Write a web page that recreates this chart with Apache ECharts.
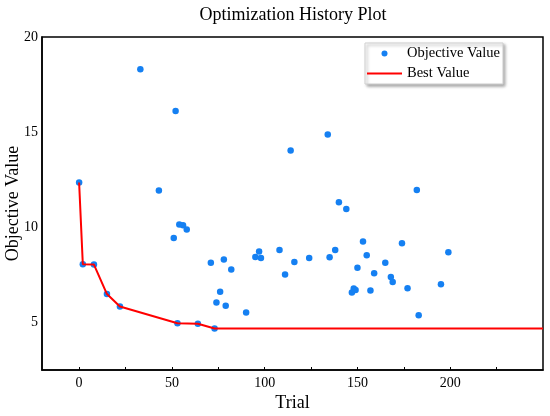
<!DOCTYPE html>
<html>
<head>
<meta charset="utf-8">
<script src="https://cdn.jsdelivr.net/npm/echarts@6/dist/echarts.min.js"></script>
<style>
  html, body { margin: 0; padding: 0; background: #fff; }
  #chart { width: 550px; height: 416px; }
</style>
</head>
<body>
<div id="chart"></div>
<script>
// trial number and objective value of every trial shown
const trials = [0, 2, 8, 15, 22, 33, 43, 51, 52, 53, 54, 56, 58, 64, 71, 73, 74, 76, 78, 79,
    82, 90, 95, 97, 98, 108, 111, 114, 116, 124, 134, 135, 138, 140, 144, 147, 148, 149, 150, 153,
    155, 157, 159, 165, 168, 169, 174, 177, 182, 183, 195, 199];
const objectiveValues = [12.35, 8.06, 8.04, 6.49, 5.84, 18.30, 11.93, 9.44, 16.11, 4.96, 10.14, 10.11, 9.88, 4.93, 8.13, 4.68, 6.05, 6.61, 8.31, 5.87,
    7.78, 5.52, 8.44, 8.73, 8.38, 8.81, 7.52, 14.04, 8.18, 8.39, 14.88, 8.43, 8.81, 11.32, 10.96, 6.57, 6.78, 6.70, 7.87, 9.25,
    8.53, 6.68, 7.59, 8.13, 7.39, 7.12, 9.16, 6.80, 11.96, 5.38, 7.01, 8.69];

// best value so far (improving trials, then held to the end of the axis)
const bestTrials = [0, 2, 8, 15, 22, 53, 64, 73, 250];
const bestValues = [12.35, 8.06, 8.04, 6.49, 5.84, 4.96, 4.93, 4.68, 4.68];

const xLabels = [0, 50, 100, 150, 200];
const xTicks = [0, 25, 50, 75, 100, 125, 150, 175, 200, 225];
const yLabels = [5, 10, 15, 20];

const font = '"Liberation Serif", "Times New Roman", serif';

const chart = echarts.init(document.getElementById('chart'), null, { renderer: 'canvas' });

const option = {
    animation: false,
    backgroundColor: '#fff',
    title: {
        text: 'Optimization History Plot',
        left: 288,
        top: 1,
        textAlign: 'center',
        textStyle: { fontFamily: font, fontSize: 18, fontWeight: 'normal', color: '#000' }
    },
    legend: {
        orient: 'vertical',
        left: 365,
        top: 43,
        itemWidth: 35,
        itemHeight: 6,
        itemGap: 5,
        padding: [3, 3, 3, 1],
        backgroundColor: '#fff',
        borderColor: '#cfcfcf',
        borderWidth: 1,
        borderRadius: 0,
        shadowColor: 'rgba(0,0,0,0.35)',
        shadowBlur: 3,
        shadowOffsetX: 2,
        shadowOffsetY: 2,
        textStyle: { fontFamily: font, fontSize: 14.5, color: '#000' },
        data: [
            { name: 'Objective Value', icon: 'circle' },
            { name: 'Best Value', itemStyle: { opacity: 0 } }
        ]
    },
    grid: {
        left: 42,
        top: 37,
        right: 7,
        bottom: 46,
        outerBoundsMode: 'none',
        show: true,
        borderColor: '#000',
        borderWidth: 1.5,
        backgroundColor: 'transparent'
    },
    xAxis: {
        type: 'value',
        min: -20,
        max: 250,
        name: 'Trial',
        nameLocation: 'middle',
        nameGap: 24,
        nameMoveOverlap: false,
        nameTextStyle: { fontFamily: font, fontSize: 18, color: '#000' },
        axisLine: { show: true, onZero: false, lineStyle: { color: '#000', width: 1.5 } },
        axisTick: { show: true, inside: true, length: 3, customValues: xTicks, lineStyle: { color: '#000' } },
        axisLabel: { customValues: xLabels, margin: 6, fontFamily: font, fontSize: 14, color: '#000' },
        splitLine: { show: false }
    },
    yAxis: {
        type: 'value',
        min: 2.5,
        max: 20,
        name: 'Objective Value',
        nameLocation: 'middle',
        nameGap: 20,
        nameMoveOverlap: false,
        nameTextStyle: { fontFamily: font, fontSize: 18, color: '#000' },
        axisLine: { show: true, onZero: false, lineStyle: { color: '#000', width: 1.5 } },
        axisTick: { show: false },
        axisLabel: { customValues: yLabels, margin: 4, fontFamily: font, fontSize: 14, color: '#000' },
        splitLine: { show: false }
    },
    series: [
        {
            name: 'Objective Value',
            type: 'scatter',
            symbol: 'circle',
            symbolSize: 6.5,
            itemStyle: { color: '#1580f2', opacity: 1 },
            data: trials.map((t, i) => [t, objectiveValues[i]])
        },
        {
            name: 'Best Value',
            type: 'line',
            showSymbol: false,
            symbol: 'none',
            lineStyle: { color: '#ff0000', width: 2 },
            itemStyle: { color: '#ff0000' },
            data: bestTrials.map((t, i) => [t, bestValues[i]])
        }
    ]
};

chart.setOption(option);
</script>
</body>
</html>
